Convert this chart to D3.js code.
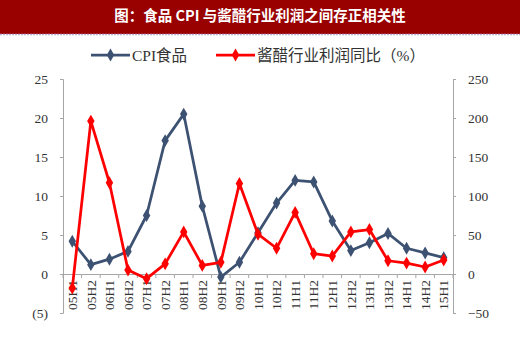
<!DOCTYPE html>
<html><head><meta charset="utf-8">
<script src="https://cdn.jsdelivr.net/npm/d3@7"></script>
<style>body{margin:0;background:#fff}svg{display:block}</style>
</head><body>
<script>
const categories = ["05H1","05H2","06H1","06H2","07H1","07H2","08H1","08H2","09H1","09H2","10H1","10H2","11H1","11H2","12H1","12H2","13H1","13H2","14H1","14H2","15H1"];
const cpiFood = [4.2,1.2,1.9,2.9,7.5,17.1,20.5,8.7,-0.4,1.5,5.3,9.1,12.0,11.8,6.8,3.0,4.0,5.2,3.3,2.7,2.1];
const profitYoY = [-18,196,117,5,-6,13,54,11,15,116,51,33,79,26,23,54,57,17,14,9,18];
const leftTicks = [-5,0,5,10,15,20,25];
const rightTicks = [-50,0,50,100,150,200,250];
const seriesNames = ["CPI食品","酱醋行业利润同比（%）"];
const titleText = "图：食品 CPI 与酱醋行业利润之间存正相关性";

const W=520,H=337;
const svg=d3.select("body").append("svg").attr("width",W).attr("height",H);
const serif="'Liberation Serif','Times New Roman','Noto Sans CJK SC',serif";
const blue="#3d5272", red="#ff0000", axisCol="#a6a6a6", txt="#333333";

// title bar
svg.append("rect").attr("x",0).attr("y",0).attr("width",W).attr("height",34).attr("fill","#990000");
svg.append("line").attr("x1",0).attr("x2",W).attr("y1",34.5).attr("y2",34.5)
  .attr("stroke","#b9b2dc").attr("stroke-width",1.5).attr("stroke-dasharray","2,1");
svg.append("text").attr("x",W/2).attr("y",21).attr("text-anchor","middle")
  .attr("fill","#fff").attr("font-weight","bold").attr("font-size",14.5)
  .attr("font-family","'Noto Sans CJK SC',sans-serif").text(titleText);

const L=63,R=453,T=79,B=313;
const x=d3.scaleBand().domain(categories).range([L,R]);
const yL=d3.scaleLinear().domain([-5,25]).range([B,T]);
const yR=d3.scaleLinear().domain([-50,250]).range([B,T]);

// left axis
const gL=svg.append("g").attr("transform",`translate(${L},0)`)
  .call(d3.axisLeft(yL).tickValues(leftTicks).tickSize(3).tickPadding(12)
    .tickFormat(d=>d<0?`(${-d})`:d));
// right axis
const gR=svg.append("g").attr("transform",`translate(${R},0)`)
  .call(d3.axisRight(yR).tickValues(rightTicks).tickSize(3).tickPadding(12));
[gL,gR].forEach(g=>{
  g.select(".domain").attr("stroke",axisCol);
  g.selectAll(".tick line").attr("stroke",axisCol);
  g.selectAll("text").attr("font-family",serif).attr("font-size",13.5).attr("fill",txt);
});
// x axis at zero
const gX=svg.append("g").attr("transform",`translate(0,${yL(0)})`)
  .call(d3.axisBottom(x).tickSize(0).tickSizeOuter(0));
gX.select(".domain").attr("stroke",axisCol);
gX.selectAll(".tick text").attr("font-family",serif).attr("font-size",13.5).attr("fill",txt)
  .attr("transform","rotate(-90)").attr("text-anchor","end").attr("x",-6).attr("y",0).attr("dy","0.35em");
// band boundary ticks
gX.selectAll(".bt").data(categories.concat(["_end"])).enter().append("line")
  .attr("x1",(d,i)=>L+i*x.bandwidth()).attr("x2",(d,i)=>L+i*x.bandwidth())
  .attr("y1",0).attr("y2",4).attr("stroke",axisCol);

const cx=d=>x(d)+x.bandwidth()/2;
const diamond=d3.symbol().type(d3.symbolDiamond).size(48);

function drawSeries(vals,scale,col){
  const line=d3.line().x((d,i)=>cx(categories[i])).y(d=>scale(d));
  svg.append("path").datum(vals).attr("d",line).attr("fill","none")
    .attr("stroke",col).attr("stroke-width",2.75).attr("stroke-linejoin","round");
  svg.selectAll(null).data(vals).enter().append("path").attr("d",diamond)
    .attr("transform",(d,i)=>`translate(${cx(categories[i])},${scale(d)})`).attr("fill",col);
}
drawSeries(cpiFood,yL,blue);
drawSeries(profitYoY,yR,red);

// legend
const leg=[{x:91,c:blue,t:seriesNames[0]},{x:216,c:red,t:seriesNames[1]}];
leg.forEach(l=>{
  svg.append("line").attr("x1",l.x).attr("x2",l.x+39).attr("y1",55).attr("y2",55)
    .attr("stroke",l.c).attr("stroke-width",2.75);
  svg.append("path").attr("d",diamond).attr("transform",`translate(${l.x+19.5},55)`).attr("fill",l.c);
  svg.append("text").attr("x",l.x+41).attr("y",60.5).attr("font-family",serif)
    .attr("font-size",15.5).attr("fill",txt).text(l.t);
});
</script>
</body></html>
